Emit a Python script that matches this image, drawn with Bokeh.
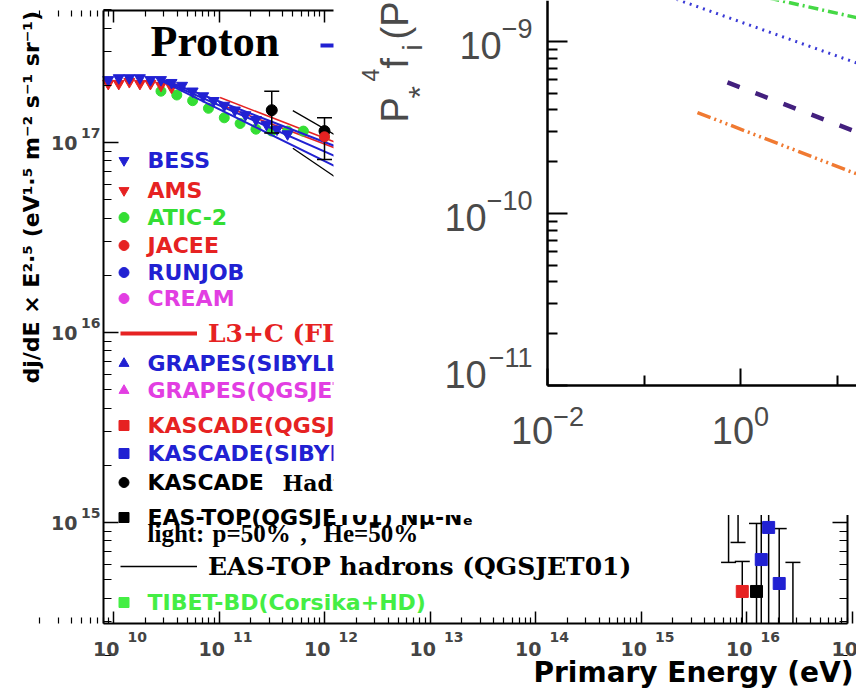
import math
from bokeh.plotting import figure
from bokeh.models import (Range1d, LogAxis, FixedTicker, Legend, LegendItem,
                          LabelSet, ColumnDataSource, CustomJSTickFormatter)
from bokeh.core.properties import value
from bokeh.layouts import column
from bokeh.embed import file_html
from bokeh.resources import INLINE

# ===================== DATA : main chart =====================
# values are log10(E / eV) and log10(dj/dE x E^2.5)
x_tick_exp = [10, 11, 12, 13, 14, 15, 16, 17]
y_tick_exp = [15, 16, 17]

bess_logE = [9.95, 10.05, 10.15, 10.25, 10.35, 10.45, 10.55, 10.65, 10.75, 10.85,
             10.95, 11.05, 11.15, 11.25, 11.35, 11.45, 11.55, 11.65]
bess_logF = [17.33, 17.34, 17.34, 17.34, 17.33, 17.33, 17.315, 17.30, 17.27, 17.245,
             17.22, 17.195, 17.17, 17.145, 17.12, 17.095, 17.07, 17.045]

ams_logE = [9.95, 10.05, 10.15, 10.25, 10.35, 10.45, 10.55]
ams_logF = [17.31, 17.31, 17.32, 17.31, 17.31, 17.30, 17.29]

atic_logE = [10.45, 10.6, 10.75, 10.9, 11.05, 11.2, 11.35, 11.5, 11.65, 11.8, 12.0,
             12.3, 12.6, 12.9, 13.2, 13.5]
atic_logF = [17.27, 17.25, 17.22, 17.18, 17.13, 17.10, 17.07, 17.06, 17.06, 17.06, 17.03,
             16.97, 16.92, 16.88, 16.84, 16.80]

jacee_logE = [12.0, 12.3, 12.6, 13.0, 13.4, 13.8, 14.2, 14.6]
jacee_logF = [17.03, 16.98, 16.93, 16.87, 16.80, 16.72, 16.64, 16.55]

runjob_logE = [13.0, 13.3, 13.6, 13.9, 14.2, 14.5]
runjob_logF = [16.80, 16.76, 16.71, 16.66, 16.60, 16.52]

cream_logE = [12.4, 12.7, 13.0, 13.3, 13.6, 13.9, 14.2]
cream_logF = [16.95, 16.91, 16.87, 16.84, 16.81, 16.78, 16.75]

kh_logE = [11.5, 12.0, 12.5, 13.0]          # KASCADE hadrons
kh_logF = [17.17, 17.06, 16.96, 16.87]
kh_up = [17.27, 17.13, 17.03, 16.95]
kh_lo = [17.05, 16.91, 16.87, 16.78]

l3c_logE = [11.01, 12.2]                   # L3+C band edges
l3c_hi = [17.237, 16.98]
l3c_lo = [17.20, 16.95]

fit_logE = [10.47, 12.3]                   # blue band
fit_a = [17.33, 16.938]
fit_b = [17.325, 16.88]
fit_c = [17.32, 16.82]

eth_logE = [11.70, 12.6]                   # EAS-TOP hadrons band edges
eth_hi = [17.168, 16.88]
eth_lo = [16.97, 16.63]

gs_logE = [14.0, 14.3, 14.6, 14.9, 15.2, 15.5, 15.83]      # GRAPES (SIBYLL)
gs_logF = [16.20, 16.10, 15.96, 15.82, 15.62, 15.42, 15.22]
gs_up = [16.26, 16.16, 16.02, 15.88, 15.70, 15.52, 15.36]
gs_lo = [16.14, 16.04, 15.90, 15.76, 15.54, 15.32, 14.79]

gq_logE = [14.05, 14.35, 14.65, 14.95, 15.25, 15.55, 15.92]  # GRAPES (QGSJET)
gq_logF = [16.24, 16.14, 16.01, 15.87, 15.68, 15.48, 15.30]
gq_up = [16.30, 16.20, 16.07, 15.93, 15.76, 15.58, 15.45]
gq_lo = [16.18, 16.08, 15.95, 15.81, 15.60, 15.38, 14.895]

kq_logE = [15.0, 15.3, 15.6, 15.96]                     # KASCADE (QGSJET01)
kq_logF = [15.62, 15.40, 15.20, 14.637]
kq_up = [15.72, 15.50, 15.30, 14.795]
kq_lo = [15.52, 15.30, 15.10, 14.20]

ks_logE = [15.0, 15.3, 15.6, 16.14, 16.21, 16.31, 16.44]  # KASCADE (SIBYLL)
ks_logF = [15.70, 15.50, 15.30, 14.805, 14.974, 14.679, 14.40]
ks_up = [15.80, 15.60, 15.40, 15.20, 15.30, 14.968, 14.79]
ks_lo = [15.60, 15.40, 15.20, 14.30, 14.30, 14.30, 14.00]

et_logE = [15.4, 15.7, 16.095]                          # EAS-TOP (QGSJET01)
et_logF = [15.45, 15.20, 14.637]
et_up = [15.55, 15.30, 14.995]
et_lo = [15.35, 15.10, 14.20]

tibet_logE = [14.6, 15.0, 15.4, 15.8]
tibet_logF = [16.00, 15.75, 15.50, 15.20]

# ===================== DATA : inset chart =====================
inset_x_tick_exp = [-2, 0, 2]
inset_x_minor_exp = [-1, 1]
inset_y_tick_exp = [-11, -10, -9]

green_logx = [0.30, 1.25]
green_logy = [-8.748, -8.867]
blue_logx = [-0.8, 1.25]
blue_logy = [-8.727, -9.134]
purple_logx = [-0.135, 1.25]
purple_logy = [-9.238, -9.536]
orange_logx = [-0.446, 1.25]
orange_logy = [-9.413, -9.780]


def pw(arr):
    return [10.0 ** v for v in arr]


SANS = "DejaVu Sans"
SERIF = "Liberation Serif"
WSERIF = "DejaVu Serif"
BLUE = "#2121d2"
RED = "#e62222"
GREEN = "#34de34"
GREEN2 = "#44ee44"
MAGENTA = "#e23ee2"
BLACK = "#000000"
NAN = float("nan")

# ---------------- layout of the main chart (page pixels) ----------------
W, H = 856, 688
XDEC, YDEC = 105.5, 190.0          # pixels per decade
X10, Y17 = 113, 142                # page position of 1e10 (x) and 1e17 (y)
XLO = 10 + (103 - X10) / XDEC      # axis box: left 103, right 847, top 10, bottom 623
XHI = 10 + (847 - X10) / XDEC
YHI = 17 + (Y17 - 10) / YDEC
YLO = 17 - (623 - Y17) / YDEC

p = figure(width=W, height=H, x_axis_type="log", y_axis_type="log",
           x_range=Range1d(10 ** (10 - X10 / XDEC), 10 ** (10 + (W - X10) / XDEC)),
           y_range=Range1d(10 ** (17 - (H - Y17) / YDEC), 10 ** (17 + Y17 / YDEC)),
           output_backend="svg", toolbar_location=None,
           min_border=0, min_border_left=0, min_border_right=0,
           min_border_top=0, min_border_bottom=0,
           background_fill_color="white", border_fill_color="white",
           outline_line_color=None)
p.grid.visible = False


def sy(page_y):
    return H - page_y


xmaj = [10.0 ** k for k in x_tick_exp]
xmin = [m * 10.0 ** k for k in range(9, 17) for m in range(2, 10)]
ymaj = [10.0 ** k for k in y_tick_exp]
ymin = [m * 10.0 ** k for k in range(14, 18) for m in range(2, 10)]


def style_axis(ax, tin, tmin, loc, bounds, lw=2.0, tlw=1.5, mlw=1.2):
    ax.fixed_location = loc
    ax.bounds = bounds
    ax.major_tick_in = tin
    ax.major_tick_out = 0
    ax.minor_tick_in = tmin
    ax.minor_tick_out = 0
    ax.major_label_text_font_size = "0px"
    ax.major_label_standoff = 0
    ax.formatter = CustomJSTickFormatter(code="return ''")
    ax.axis_line_width = lw
    ax.major_tick_line_width = tlw
    ax.minor_tick_line_width = mlw


bottom = p.below[0]
left = p.left[0]
bottom.ticker = FixedTicker(ticks=xmaj, minor_ticks=xmin)
left.ticker = FixedTicker(ticks=ymaj, minor_ticks=ymin)
top_ax = LogAxis(ticker=FixedTicker(ticks=xmaj, minor_ticks=xmin))
right_ax = LogAxis(ticker=FixedTicker(ticks=ymaj, minor_ticks=ymin))
p.add_layout(top_ax, "above")
p.add_layout(right_ax, "right")
style_axis(bottom, 12, 6, 10 ** YLO, (10 ** XLO, 10 ** XHI))
style_axis(top_ax, 12, 6, 10 ** YHI, (10 ** XLO, 10 ** XHI))
style_axis(left, 15, 8, 10 ** XLO, (10 ** YLO, 10 ** YHI))
style_axis(right_ax, 15, 8, 10 ** XHI, (10 ** YLO, 10 ** YHI))


def inside_pts(logE, logF):
    keep = [(e, f) for e, f in zip(logE, logF) if XLO <= e <= XHI and YLO <= f <= YHI]
    return pw([k[0] for k in keep]), pw([k[1] for k in keep])


# ---- lines and markers
r_l3c = p.multi_line([pw(l3c_logE), pw(l3c_logE)], [pw(l3c_hi), pw(l3c_lo)],
                     line_color=RED, line_width=1.5)
r_atic = p.scatter(*inside_pts(atic_logE, atic_logF), marker="circle", size=10, color=GREEN)
r_ams = p.scatter(*inside_pts(ams_logE, ams_logF), marker="inverted_triangle", size=11, color=RED)
r_fit = p.multi_line([pw(fit_logE)] * 3, [pw(fit_a), pw(fit_b), pw(fit_c)],
                     line_color=BLUE, line_width=2)
r_bess = p.scatter(*inside_pts(bess_logE, bess_logF), marker="inverted_triangle", size=11,
                   color=BLUE)
r_eth = p.multi_line([pw(eth_logE), pw(eth_logE)], [pw(eth_hi), pw(eth_lo)],
                     line_color=BLACK, line_width=1.3)


def errbars(logE, up, lo):
    # bars are cut at the axis box, caps only where the bar really ends
    xs = pw(logE)
    lo_c = [max(v, YLO) for v in lo]
    up_c = [min(v, YHI) for v in up]
    p.segment(xs, pw(lo_c), xs, pw(up_c), line_color=BLACK, line_width=1.5)
    cx = [x for x, v in zip(logE, up) if v <= YHI] + [x for x, v in zip(logE, lo) if v >= YLO]
    cy = [v for v in up if v <= YHI] + [v for v in lo if v >= YLO]
    p.scatter(pw(cx), pw(cy), marker="dash", size=15, line_color=BLACK, line_width=1.5)


errbars(kh_logE, kh_up, kh_lo)
errbars(gs_logE, gs_up, gs_lo)
errbars(gq_logE, gq_up, gq_lo)
errbars(kq_logE, kq_up, kq_lo)
errbars(ks_logE, ks_up, ks_lo)
errbars(et_logE, et_up, et_lo)

r_kh = p.scatter(*inside_pts(kh_logE, kh_logF), marker="circle", size=11, color=BLACK)
r_jacee = p.scatter(*inside_pts(jacee_logE, jacee_logF), marker="circle", size=10, color=RED)
r_runjob = p.scatter(*inside_pts(runjob_logE, runjob_logF), marker="circle", size=10, color=BLUE)
r_cream = p.scatter(*inside_pts(cream_logE, cream_logF), marker="circle", size=10, color=MAGENTA)
r_gs = p.scatter(*inside_pts(gs_logE, gs_logF), marker="triangle", size=11, color=BLUE)
r_gq = p.scatter(*inside_pts(gq_logE, gq_logF), marker="triangle", size=11, color=MAGENTA)
r_tibet = p.scatter(*inside_pts(tibet_logE, tibet_logF), marker="square", size=11, color=GREEN2)
r_kq = p.scatter(*inside_pts(kq_logE, kq_logF), marker="square", size=12, color=RED)
r_et = p.scatter(*inside_pts(et_logE, et_logF), marker="square", size=12, color=BLACK)
r_ks = p.scatter(*inside_pts(ks_logE, ks_logF), marker="square", size=12, color=BLUE)

# legend keys drawn with a thicker line than the data (no visible data of their own)
r_l3c_key = p.line(x=[NAN], y=[NAN], line_color=RED, line_width=4)
r_fit_key = p.line(x=[NAN], y=[NAN], line_color=BLUE, line_width=4)


def legend_entry(text, rend, cy, color, font=SANS, fsize=22, gw=25, gx=110.5, tx=148, h=34):
    leg = Legend(items=[LegendItem(label=value(text), renderers=[rend])],
                 location=(gx, sy(cy) - h / 2),
                 orientation="vertical", padding=0, margin=0, spacing=0,
                 glyph_width=gw, glyph_height=h, label_height=h, label_width=10,
                 label_standoff=int(round(tx - gx - gw)),
                 label_text_font=font, label_text_font_size=f"{fsize}px",
                 label_text_font_style="bold", label_text_color=color,
                 border_line_alpha=0, background_fill_alpha=0)
    p.add_layout(leg)


legend_entry("Fit", r_fit_key, 45, BLUE, gw=40, gx=320, tx=370)
legend_entry("BESS", r_bess, 160, BLUE)
legend_entry("AMS", r_ams, 190, RED)
legend_entry("ATIC-2", r_atic, 217, GREEN)
legend_entry("JACEE", r_jacee, 245, RED)
legend_entry("RUNJOB", r_runjob, 272, BLUE)
legend_entry("CREAM", r_cream, 298, MAGENTA)
legend_entry("L3+C (FLUKA)", r_l3c_key, 333, RED, font=WSERIF, fsize=25, gw=77, gx=120, tx=208)
legend_entry("GRAPES(SIBYLL)", r_gs, 363, BLUE)
legend_entry("GRAPES(QGSJET)", r_gq, 390, MAGENTA)
legend_entry("KASCADE(QGSJET01)", r_kq, 425, RED)
legend_entry("KASCADE(SIBYLL)", r_ks, 453, BLUE)
legend_entry("KASCADE", r_kh, 482, BLACK)
legend_entry("EAS-TOP(QGSJET01) N\u03bc-N\u2091", r_et, 517, BLACK)
legend_entry("EAS-TOP hadrons (QGSJET01)", r_eth, 566, BLACK, font=WSERIF, fsize=25, gw=77,
             gx=120, tx=208)
legend_entry("TIBET-BD(Corsika+HD)", r_tibet, 602, GREEN2)


def text_at(fig, text, x, y, font, size, align="left", baseline="alphabetic", angle=0.0,
            style="bold", color="black"):
    src = ColumnDataSource(dict(x=[x], y=[y], t=[text]))
    fig.add_layout(LabelSet(x="x", y="y", x_units="screen", y_units="screen", text="t",
                            source=src, text_font=value(font), text_font_size=f"{size}px",
                            text_font_style=style, text_color=color, text_align=align,
                            text_baseline=baseline, angle=angle))


text_at(p, "Proton", 150, sy(55), SERIF, 44)
text_at(p, "Hadrons", 282, sy(490), WSERIF, 22)
# second line of the EAS-TOP entry, set in pieces so that it keeps the wide spacing
light_parts = ["light:", "p=50%", ",", "He=50%"]
light_x = [147, 212, 300, 323]
for part, lx in zip(light_parts, light_x):
    text_at(p, part, lx, sy(541), SERIF, 25)
text_at(p, "Primary Energy (eV)", 853, sy(681), SANS, 28, align="right")
text_at(p, "dj/dE \u00d7 E\u00b2\u00b7\u2075 (eV\u00b9\u00b7\u2075 m\u207b\u00b2 s\u207b\u00b9 sr\u207b\u00b9)",
        31, sy(383), SANS, 22, baseline="middle", angle=math.pi / 2)

# tick labels of the main chart: "10" + raised exponent
xsrc = ColumnDataSource(dict(x=xmaj, base=["10"] * len(xmaj), sup=[str(k) for k in x_tick_exp]))
p.add_layout(LabelSet(x="x", y=sy(655), y_units="screen", text="base", source=xsrc,
                      x_offset=6, text_align="right", text_baseline="alphabetic",
                      text_font=value(SANS), text_font_style="bold", text_font_size="19px"))
p.add_layout(LabelSet(x="x", y=sy(641), y_units="screen", text="sup", source=xsrc,
                      x_offset=14, text_align="left", text_baseline="alphabetic",
                      text_font=value(SANS), text_font_style="bold", text_font_size="14px"))
ysrc = ColumnDataSource(dict(y=ymaj, base=["10"] * len(ymaj), sup=[str(k) for k in y_tick_exp]))
p.add_layout(LabelSet(x=77, x_units="screen", y="y", text="base", source=ysrc,
                      y_offset=-7, text_align="right", text_baseline="alphabetic",
                      text_font=value(SANS), text_font_style="bold", text_font_size="19px"))
p.add_layout(LabelSet(x=100, x_units="screen", y="y", text="sup", source=ysrc,
                      y_offset=5, text_align="right", text_baseline="alphabetic",
                      text_font=value(SANS), text_font_style="bold", text_font_size="14px"))

# ===================== inset chart (pasted over the upper right) =====================
IX0, IW, IH = 333, 523, 515        # page position and size of the pasted inset
IFL, IFB = 547, 385                # inset axes: left x / bottom y (page px)
IXD, IYD = 96.5, 172.0             # pixels per decade in the inset
IY9 = 41                           # page y of 1e-9
GRAY = "#4a4a4a"

q = figure(width=IW, height=IH, x_axis_type="log", y_axis_type="log",
           x_range=Range1d(10 ** (-2 - (IFL - IX0) / IXD), 10 ** (-2 + (IX0 + IW - IFL) / IXD)),
           y_range=Range1d(10 ** (-9 - (IH - IY9) / IYD), 10 ** (-9 + IY9 / IYD)),
           min_border=0, min_border_left=0, min_border_right=0, min_border_top=0,
           min_border_bottom=0,
           output_backend="svg", toolbar_location=None, outline_line_color=None,
           background_fill_color="white", border_fill_color="white")
q.grid.visible = False
q.margin = (-H, 0, H - IH, IX0)


def qsx(page_x):
    return page_x - IX0


def qsy(page_y):
    return IH - page_y


qx = q.below[0]
qy = q.left[0]
qx.ticker = FixedTicker(ticks=[10.0 ** k for k in inset_x_tick_exp],
                        minor_ticks=[10.0 ** k for k in inset_x_minor_exp])
qy.ticker = FixedTicker(ticks=[10.0 ** k for k in inset_y_tick_exp],
                        minor_ticks=[m * 10.0 ** k for k in inset_y_tick_exp for m in range(2, 10)])
style_axis(qx, 17, 10, 1e-11, (1e-2, q.x_range.end), lw=2.5, tlw=2, mlw=2)
style_axis(qy, 20, 10, 1e-2, (1e-11, q.y_range.end), lw=2.5, tlw=2, mlw=2)

q.line(pw(green_logx), pw(green_logy), line_color="#45d845", line_width=3.5, line_dash="10 4 2 4")
q.line(pw(blue_logx), pw(blue_logy), line_color="#3a3ad6", line_width=3, line_dash="2 5")
q.line(pw(purple_logx), pw(purple_logy), line_color="#43207e", line_width=4.5, line_dash="13 17")
q.line(pw(orange_logx), pw(orange_logy), line_color="#f07a32", line_width=3.5,
       line_dash="14 4 2 4 2 4 2 4")


def tw(s, fs):
    return sum(0.556 if ch.isdigit() else 0.584 for ch in s) * fs


BASE_FS, SUP_FS = 38, 27
IFONT = "Liberation Sans"
# x tick labels (centred as a whole on the tick)
xs_sup = ["\u2212" + str(-k) if k < 0 else str(k) for k in inset_x_tick_exp]
xtot = [tw("10", BASE_FS) + tw(s, SUP_FS) for s in xs_sup]
qxsrc = ColumnDataSource(dict(x=[10.0 ** k for k in inset_x_tick_exp], sup=xs_sup,
                              base=["10"] * len(xs_sup),
                              ob=[-t / 2 for t in xtot],
                              os=[-t / 2 + tw("10", BASE_FS) for t in xtot]))
q.add_layout(LabelSet(x="x", y=qsy(443), y_units="screen", text="base", source=qxsrc,
                      x_offset="ob", text_align="left", text_baseline="alphabetic",
                      text_font=value(IFONT), text_font_size=f"{BASE_FS}px", text_color=GRAY))
q.add_layout(LabelSet(x="x", y=qsy(425), y_units="screen", text="sup", source=qxsrc,
                      x_offset="os", text_align="left", text_baseline="alphabetic",
                      text_font=value(IFONT), text_font_size=f"{SUP_FS}px", text_color=GRAY))
# y tick labels (right aligned)
ys_sup = ["\u2212" + str(-k) for k in inset_y_tick_exp]
lift = [15 if k == inset_y_tick_exp[0] else 0 for k in inset_y_tick_exp]
qysrc = ColumnDataSource(dict(y=[10.0 ** k for k in inset_y_tick_exp], sup=ys_sup,
                              base=["10"] * len(ys_sup),
                              xb=[qsx(532) - tw(s, SUP_FS) for s in ys_sup],
                              yb=[-17 + l for l in lift], ys=[4 + l for l in lift]))
q.add_layout(LabelSet(x="xb", x_units="screen", y="y", y_offset="yb", text="base", source=qysrc,
                      text_align="right", text_baseline="alphabetic",
                      text_font=value(IFONT), text_font_size=f"{BASE_FS}px", text_color=GRAY))
q.add_layout(LabelSet(x=qsx(532), x_units="screen", y="y", y_offset="ys", text="sup",
                      source=qysrc, text_align="right", text_baseline="alphabetic",
                      text_font=value(IFONT), text_font_size=f"{SUP_FS}px", text_color=GRAY))

# rotated y-axis title of the inset: p_*^4 f_i(p ...
for txt, ystart, fs, xbase in [("P", 122, 38, 407), ("*", 98, 32, 430), ("4", 81, 23, 378),
                               ("f", 68, 38, 407), ("i", 50, 28, 421), ("(P", 39, 38, 407)]:
    text_at(q, txt, qsx(xbase), qsy(ystart), IFONT, fs, angle=math.pi / 2, style="normal",
            color=GRAY)

layout = column(p, q)
open("out.html", "w").write(file_html(layout, INLINE))
